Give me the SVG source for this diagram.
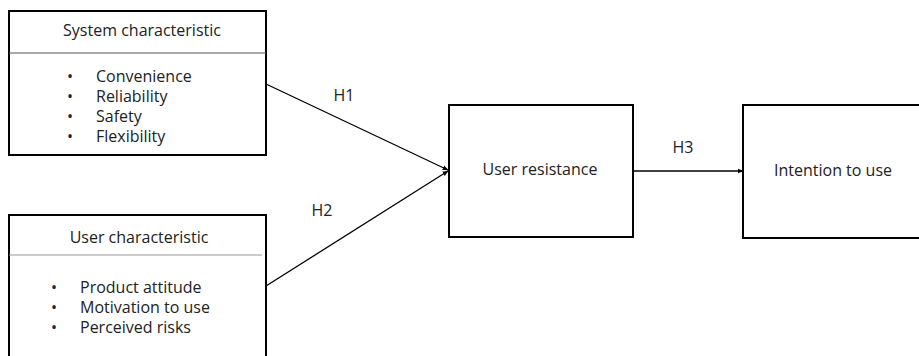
<svg xmlns="http://www.w3.org/2000/svg" width="919" height="356" viewBox="0 0 919 356">
<style>
.box{fill:#fff;stroke:#000;stroke-width:2}
.div{stroke:#555;stroke-width:1}
text{font-family:"Open Sans","Noto Sans",sans-serif;font-size:16px;fill:#222}
.c{text-anchor:middle}
.edge{stroke:#000;stroke-width:1.3;fill:none;marker-end:url(#arr)}
</style>
<defs>
<marker id="arr" viewBox="0 0 10 10" refX="9" refY="5" markerWidth="6" markerHeight="6" orient="auto" markerUnits="userSpaceOnUse">
<path d="M0,1 L10,5 L0,9 z" fill="#000"/>
</marker>
</defs>
<g id="system">
<rect class="box" x="9" y="11" width="257" height="144"/>
<line class="div" x1="9" y1="53" x2="266" y2="53"/>
<text class="c" x="142" y="36">System characteristic</text>
<text x="67" y="82">•</text><text x="96" y="82">Convenience</text>
<text x="67" y="102">•</text><text x="96" y="102">Reliability</text>
<text x="67" y="122">•</text><text x="96" y="122">Safety</text>
<text x="67" y="142">•</text><text x="96" y="142">Flexibility</text>
</g>
<g id="user">
<rect class="box" x="9" y="215" width="257" height="150"/>
<line stroke="#999" stroke-width="1" x1="9" y1="255" x2="262" y2="255"/>
<text class="c" x="139" y="243">User characteristic</text>
<text x="51" y="293">•</text><text x="80" y="293">Product attitude</text>
<text x="51" y="313">•</text><text x="80" y="313">Motivation to use</text>
<text x="51" y="333">•</text><text x="80" y="333">Perceived risks</text>
</g>
<g id="resistance">
<rect class="box" x="449" y="105" width="184" height="132"/>
<text class="c" x="540" y="175">User resistance</text>
</g>
<g id="intention">
<rect class="box" x="743" y="105" width="185" height="133"/>
<text class="c" x="833" y="176">Intention to use</text>
</g>
<g id="connectors">
<line class="edge" x1="266" y1="84" x2="448" y2="170"/>
<line class="edge" x1="266" y1="286" x2="448" y2="171"/>
<line class="edge" x1="633" y1="171" x2="743" y2="171"/>
<text class="c" x="344" y="101">H1</text>
<text class="c" x="322" y="216">H2</text>
<text class="c" x="683" y="153">H3</text>
</g>
</svg>
